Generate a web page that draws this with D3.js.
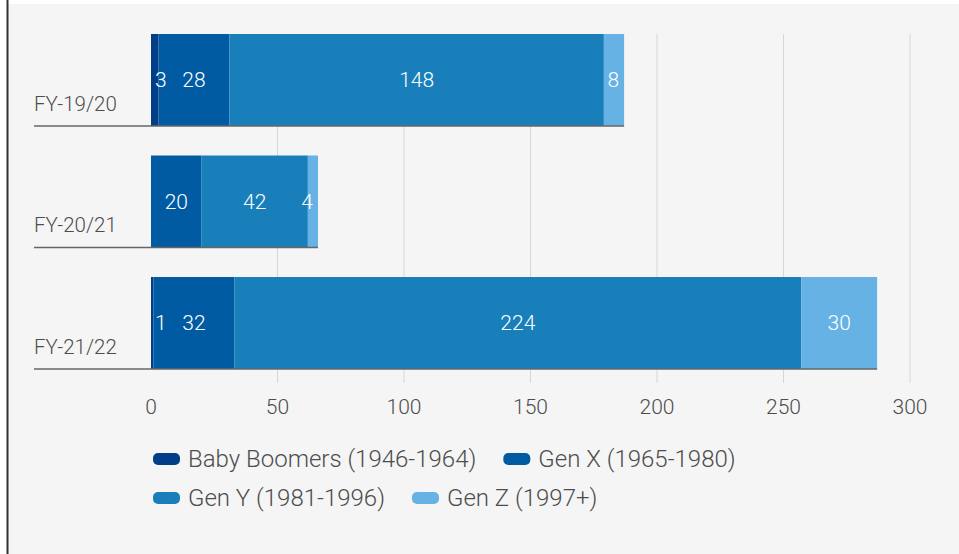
<!DOCTYPE html>
<html lang="en">
<head>
  <meta charset="UTF-8">
  <title>Generations by fiscal year</title>
  <style>
    body {
      margin: 0;
      padding: 0;
      background: #fff;
      font-family: Roboto, "Liberation Sans", Arial, sans-serif;
      font-weight: 300;
    }
  </style>
</head>
<body>
<svg width="959" height="554"></svg>
<script src="https://d3js.org/d3.v7.min.js"></script>
<script>
// data
const years = ["FY-19/20", "FY-20/21", "FY-21/22"];
const series = ["Baby Boomers (1946-1964)", "Gen X (1965-1980)", "Gen Y (1981-1996)", "Gen Z (1997+)"];
const boomers = [3, 0, 1];
const genX = [28, 20, 32];
const genY = [148, 42, 224];
const genZ = [8, 4, 30];
const ticks = [0, 50, 100, 150, 200, 250, 300];
const colors = ["#003f87", "#005ba3", "#187fbb", "#66b2e4"];

const svg = d3.select("svg");
const textColor = "#4d4d4d";

// panel background + left rule
svg.append("rect")
  .attr("x", 8).attr("y", 4)
  .attr("width", 951).attr("height", 550)
  .attr("fill", "#f5f5f5");
svg.append("line")
  .attr("x1", 7.5).attr("x2", 7.5)
  .attr("y1", 0).attr("y2", 554)
  .attr("stroke", "#333").attr("stroke-width", 2);

const x = d3.scaleLinear().domain([0, 300]).range([151, 910]);
const y = d3.scaleBand().domain(years).range([34, 369]).paddingInner(0.243).paddingOuter(0);

const rows = years.map((yr, i) => {
  const o = {year: yr};
  o[series[0]] = boomers[i];
  o[series[1]] = genX[i];
  o[series[2]] = genY[i];
  o[series[3]] = genZ[i];
  return o;
});
const stacked = d3.stack().keys(series)(rows);

// grid lines
svg.append("g").selectAll("line")
  .data(ticks.filter(t => t > 0))
  .join("line")
  .attr("x1", d => x(d)).attr("x2", d => x(d))
  .attr("y1", 34).attr("y2", 383)
  .attr("stroke", "#d6d6d6").attr("stroke-width", 1);

// tick labels
svg.append("g").selectAll("text")
  .data(ticks)
  .join("text")
  .attr("x", d => x(d))
  .attr("y", 414)
  .attr("text-anchor", "middle")
  .attr("fill", textColor)
  .attr("font-size", 21)
  .text(d => d);

// bars
svg.append("g").selectAll("g")
  .data(stacked)
  .join("g")
  .attr("fill", (d, i) => colors[i])
  .selectAll("rect")
  .data(d => d)
  .join("rect")
  .attr("x", d => x(d[0]))
  .attr("width", d => x(d[1]) - x(d[0]))
  .attr("y", d => y(d.data.year))
  .attr("height", y.bandwidth());

// category baselines + labels
const totals = years.map((yr, i) => boomers[i] + genX[i] + genY[i] + genZ[i]);
svg.append("g").selectAll("line")
  .data(years)
  .join("line")
  .attr("x1", 34)
  .attr("x2", (d, i) => x(totals[i]))
  .attr("y1", d => y(d) + y.bandwidth())
  .attr("y2", d => y(d) + y.bandwidth())
  .attr("stroke", "#666").attr("stroke-width", 1.5);

svg.append("g").selectAll("text")
  .data(years)
  .join("text")
  .attr("x", 34)
  .attr("y", d => y(d) + y.bandwidth() - 15)
  .attr("fill", textColor)
  .attr("font-size", 20.5)
  .text(d => d);

// value labels on top of all segments, kept inside their segment
const segs = stacked.flatMap(s => s.filter(d => d[1] - d[0] > 0));
svg.append("g").selectAll("text")
  .data(segs)
  .join("text")
  .attr("y", d => y(d.data.year) + y.bandwidth() / 2 + 7)
  .attr("text-anchor", "middle")
  .attr("fill", "#fff")
  .attr("font-size", 21)
  .text(d => d[1] - d[0])
  .attr("x", function(d) {
    const w = this.getComputedTextLength();
    const x0 = x(d[0]), x1 = x(d[1]);
    if (x1 - x0 >= w + 9) return (x0 + x1) / 2;
    return d[0] === 0 ? x0 + 4 + w / 2 : x1 - 5 - w / 2;
  });

// legend
const legend = svg.append("g");
let lx = 153, ly = 459;
series.forEach((name, i) => {
  const item = legend.append("g");
  item.append("rect")
    .attr("width", 27).attr("height", 12)
    .attr("rx", 5)
    .attr("y", -6)
    .attr("fill", colors[i]);
  const t = item.append("text")
    .attr("x", 35).attr("y", 8)
    .attr("fill", textColor)
    .attr("font-size", 24)
    .text(name);
  const w = 35 + t.node().getComputedTextLength();
  if (lx + w > 780) { lx = 153; ly += 39; }
  item.attr("transform", `translate(${lx},${ly})`);
  lx += w + 27;
});
</script>
</body>
</html>
